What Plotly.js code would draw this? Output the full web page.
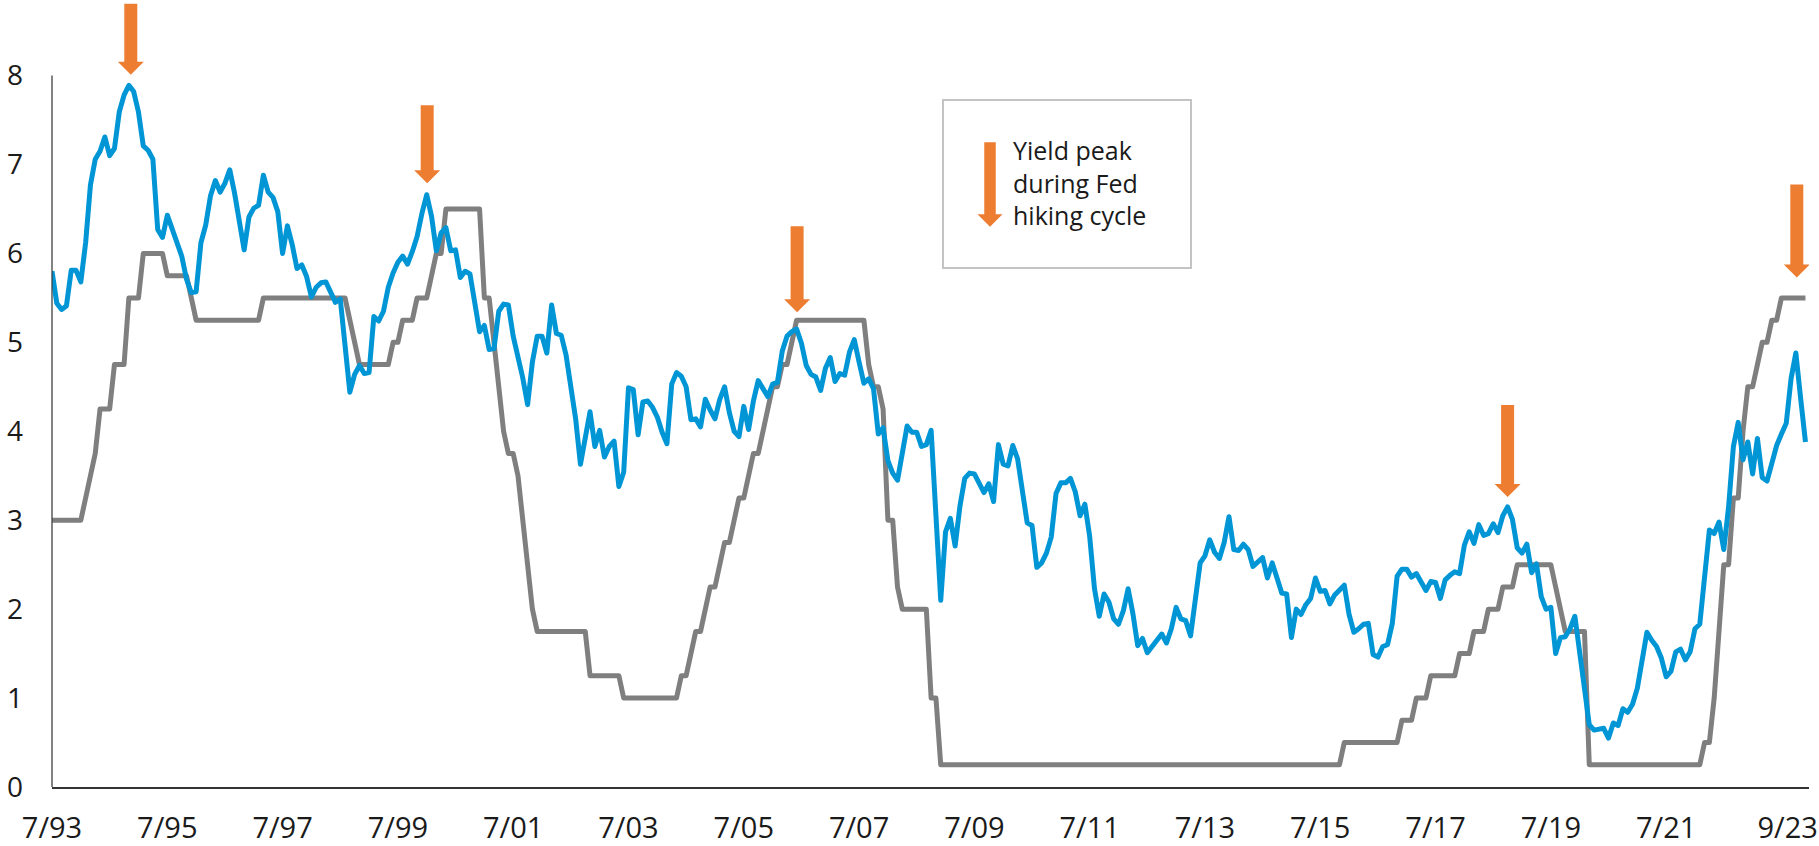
<!DOCTYPE html>
<html>
<head>
<meta charset="utf-8">
<script src="https://cdn.plot.ly/plotly-3.0.1.min.js"></script>
<style>
  html, body { margin: 0; padding: 0; background: #ffffff; }
  #chart { width: 1819px; height: 846px; }
  .js-line { stroke-linejoin: round; }
</style>
</head>
<body>
<div id="chart"></div>
<script>
// ---------- DATA (monthly, 7/1993 .. 12/2023) ----------
const tickLabels = ['7/93','7/95','7/97','7/99','7/01','7/03','7/05','7/07','7/09','7/11','7/13','7/15','7/17','7/19','7/21','9/23'];
// tick positions, in months since 7/1993 (last label sits flush with the right edge)
const tickMonths = [0, 24, 48, 72, 96, 120, 144, 168, 192, 216, 240, 264, 288, 312, 336, 361.3];

// 10-year Treasury yield (%), month-end
const yield10y = [
  5.80, 5.44, 5.37, 5.41, 5.81, 5.81,
  5.68, 6.12, 6.77, 7.06, 7.15, 7.31, 7.10, 7.18, 7.59, 7.78, 7.89, 7.82,
  7.59, 7.21, 7.16, 7.06, 6.27, 6.18, 6.43, 6.27, 6.15, 5.97, 5.71, 5.56,
  5.57, 6.12, 6.32, 6.65, 6.82, 6.69, 6.79, 6.94, 6.68, 6.35, 6.04, 6.41,
  6.51, 6.54, 6.88, 6.69, 6.63, 6.47, 6.00, 6.31, 6.10, 5.83, 5.87, 5.74,
  5.51, 5.62, 5.67, 5.68, 5.55, 5.45, 5.49, 4.98, 4.44, 4.64, 4.74, 4.65,
  4.66, 5.29, 5.24, 5.35, 5.62, 5.78, 5.90, 5.97, 5.88, 6.02, 6.19, 6.45,
  6.66, 6.42, 6.03, 6.23, 6.29, 6.03, 6.04, 5.73, 5.80, 5.77, 5.48, 5.12,
  5.19, 4.92, 4.93, 5.35, 5.43, 5.42, 5.07, 4.85, 4.60, 4.30, 4.78, 5.07,
  5.07, 4.88, 5.42, 5.10, 5.08, 4.86, 4.51, 4.14, 3.63, 3.93, 4.22, 3.83,
  4.01, 3.71, 3.83, 3.89, 3.38, 3.54, 4.49, 4.47, 3.96, 4.33, 4.34, 4.27,
  4.16, 3.99, 3.86, 4.53, 4.66, 4.62, 4.50, 4.13, 4.14, 4.05, 4.36, 4.24,
  4.14, 4.36, 4.50, 4.21, 4.00, 3.94, 4.28, 4.02, 4.34, 4.57, 4.49, 4.39,
  4.53, 4.55, 4.90, 5.07, 5.12, 5.15, 4.99, 4.74, 4.64, 4.61, 4.46, 4.71,
  4.83, 4.56, 4.65, 4.63, 4.89, 5.03, 4.78, 4.54, 4.59, 4.48, 3.97, 4.04,
  3.67, 3.53, 3.45, 3.77, 4.06, 3.99, 3.99, 3.83, 3.85, 4.01, 2.93, 2.10,
  2.87, 3.02, 2.71, 3.16, 3.47, 3.53, 3.52, 3.40, 3.31, 3.41, 3.21, 3.85,
  3.63, 3.61, 3.84, 3.69, 3.31, 2.97, 2.94, 2.47, 2.52, 2.63, 2.81, 3.30,
  3.42, 3.42, 3.47, 3.32, 3.05, 3.18, 2.82, 2.23, 1.92, 2.17, 2.08, 1.89,
  1.83, 1.98, 2.23, 1.95, 1.59, 1.67, 1.51, 1.57, 1.65, 1.72, 1.62, 1.78,
  2.02, 1.89, 1.87, 1.70, 2.16, 2.52, 2.60, 2.78, 2.64, 2.57, 2.75, 3.04,
  2.67, 2.66, 2.73, 2.67, 2.48, 2.53, 2.58, 2.35, 2.52, 2.35, 2.18, 2.17,
  1.68, 2.00, 1.94, 2.05, 2.12, 2.35, 2.20, 2.21, 2.06, 2.16, 2.21, 2.27,
  1.94, 1.74, 1.78, 1.83, 1.84, 1.49, 1.46, 1.58, 1.60, 1.84, 2.37, 2.45,
  2.45, 2.36, 2.40, 2.29, 2.21, 2.31, 2.30, 2.12, 2.33, 2.38, 2.42, 2.40,
  2.72, 2.87, 2.74, 2.95, 2.83, 2.85, 2.96, 2.86, 3.05, 3.15, 3.01, 2.69,
  2.63, 2.73, 2.41, 2.51, 2.14, 2.00, 2.02, 1.50, 1.68, 1.69, 1.78, 1.92,
  1.51, 1.13, 0.70, 0.64, 0.65, 0.66, 0.55, 0.72, 0.69, 0.88, 0.84, 0.93,
  1.11, 1.44, 1.74, 1.65, 1.58, 1.45, 1.24, 1.30, 1.52, 1.55, 1.43, 1.52,
  1.78, 1.83, 2.32, 2.89, 2.85, 2.98, 2.67, 3.15, 3.83, 4.10, 3.68, 3.88,
  3.52, 3.92, 3.48, 3.44, 3.64, 3.84, 3.97, 4.09, 4.59, 4.88, 4.37, 3.88
];

// Fed funds target rate (upper bound, %), month-end
const fedFunds = [
  3.00, 3.00, 3.00, 3.00, 3.00, 3.00,
  3.00, 3.25, 3.50, 3.75, 4.25, 4.25, 4.25, 4.75, 4.75, 4.75, 5.50, 5.50,
  5.50, 6.00, 6.00, 6.00, 6.00, 6.00, 5.75, 5.75, 5.75, 5.75, 5.75, 5.50,
  5.25, 5.25, 5.25, 5.25, 5.25, 5.25, 5.25, 5.25, 5.25, 5.25, 5.25, 5.25,
  5.25, 5.25, 5.50, 5.50, 5.50, 5.50, 5.50, 5.50, 5.50, 5.50, 5.50, 5.50,
  5.50, 5.50, 5.50, 5.50, 5.50, 5.50, 5.50, 5.50, 5.25, 5.00, 4.75, 4.75,
  4.75, 4.75, 4.75, 4.75, 4.75, 5.00, 5.00, 5.25, 5.25, 5.25, 5.50, 5.50,
  5.50, 5.75, 6.00, 6.00, 6.50, 6.50, 6.50, 6.50, 6.50, 6.50, 6.50, 6.50,
  5.50, 5.50, 5.00, 4.50, 4.00, 3.75, 3.75, 3.50, 3.00, 2.50, 2.00, 1.75,
  1.75, 1.75, 1.75, 1.75, 1.75, 1.75, 1.75, 1.75, 1.75, 1.75, 1.25, 1.25,
  1.25, 1.25, 1.25, 1.25, 1.25, 1.00, 1.00, 1.00, 1.00, 1.00, 1.00, 1.00,
  1.00, 1.00, 1.00, 1.00, 1.00, 1.25, 1.25, 1.50, 1.75, 1.75, 2.00, 2.25,
  2.25, 2.50, 2.75, 2.75, 3.00, 3.25, 3.25, 3.50, 3.75, 3.75, 4.00, 4.25,
  4.50, 4.50, 4.75, 4.75, 5.00, 5.25, 5.25, 5.25, 5.25, 5.25, 5.25, 5.25,
  5.25, 5.25, 5.25, 5.25, 5.25, 5.25, 5.25, 5.25, 4.75, 4.50, 4.50, 4.25,
  3.00, 3.00, 2.25, 2.00, 2.00, 2.00, 2.00, 2.00, 2.00, 1.00, 1.00, 0.25,
  0.25, 0.25, 0.25, 0.25, 0.25, 0.25, 0.25, 0.25, 0.25, 0.25, 0.25, 0.25,
  0.25, 0.25, 0.25, 0.25, 0.25, 0.25, 0.25, 0.25, 0.25, 0.25, 0.25, 0.25,
  0.25, 0.25, 0.25, 0.25, 0.25, 0.25, 0.25, 0.25, 0.25, 0.25, 0.25, 0.25,
  0.25, 0.25, 0.25, 0.25, 0.25, 0.25, 0.25, 0.25, 0.25, 0.25, 0.25, 0.25,
  0.25, 0.25, 0.25, 0.25, 0.25, 0.25, 0.25, 0.25, 0.25, 0.25, 0.25, 0.25,
  0.25, 0.25, 0.25, 0.25, 0.25, 0.25, 0.25, 0.25, 0.25, 0.25, 0.25, 0.25,
  0.25, 0.25, 0.25, 0.25, 0.25, 0.25, 0.25, 0.25, 0.25, 0.25, 0.25, 0.50,
  0.50, 0.50, 0.50, 0.50, 0.50, 0.50, 0.50, 0.50, 0.50, 0.50, 0.50, 0.75,
  0.75, 0.75, 1.00, 1.00, 1.00, 1.25, 1.25, 1.25, 1.25, 1.25, 1.25, 1.50,
  1.50, 1.50, 1.75, 1.75, 1.75, 2.00, 2.00, 2.00, 2.25, 2.25, 2.25, 2.50,
  2.50, 2.50, 2.50, 2.50, 2.50, 2.50, 2.50, 2.25, 2.00, 1.75, 1.75, 1.75,
  1.75, 1.75, 0.25, 0.25, 0.25, 0.25, 0.25, 0.25, 0.25, 0.25, 0.25, 0.25,
  0.25, 0.25, 0.25, 0.25, 0.25, 0.25, 0.25, 0.25, 0.25, 0.25, 0.25, 0.25,
  0.25, 0.25, 0.50, 0.50, 1.00, 1.75, 2.50, 2.50, 3.25, 3.25, 4.00, 4.50,
  4.50, 4.75, 5.00, 5.00, 5.25, 5.25, 5.50, 5.50, 5.50, 5.50, 5.50, 5.50
];

// ---------- helpers ----------
const monthIdx = yield10y.map((_, i) => i);

const W = 1819, H = 846, ML = 52, MR = 10, MT = 0, MB = 59;
const PW = W - ML - MR, PH = H - MT - MB;
const paperX = x => (x - ML) / PW;          // page pixel -> paper
const paperY = y => (H - MB - y) / PH;

const ORANGE = '#ED7D31';
function arrowPath(len, shaftW, headW, headL) {
  const s = shaftW / 2, h = headW / 2;
  return 'M' + (-s) + ',' + len + ' L' + (-s) + ',' + headL + ' L' + (-h) + ',' + headL +
         ' L0,0 L' + h + ',' + headL + ' L' + s + ',' + headL + ' L' + s + ',' + len + ' Z';
}

// peak arrows (anchored in data space at arrow tip)
const peakArrows = [
  { month: 16.4,  tip: 8.01, len: 71 },
  { month: 78.1,  tip: 6.79, len: 78 },
  { month: 155.1, tip: 5.34, len: 86 },
  { month: 303.0, tip: 3.26, len: 92 },
  { month: 363.2, tip: 5.73, len: 93 }
];

const shapes = peakArrows.map(a => ({
  type: 'path', xref: 'x', yref: 'y',
  xsizemode: 'pixel', ysizemode: 'pixel',
  xanchor: a.month, yanchor: a.tip,
  path: arrowPath(a.len, 13, 26, 13),
  fillcolor: ORANGE, line: { width: 0 }, layer: 'above'
}));

// y axis line (only up to 8)
shapes.push({
  type: 'line', xref: 'paper', yref: 'y', x0: 0, x1: 0, y0: 0, y1: 8,
  line: { color: '#404040', width: 1.3 }, layer: 'above'
});

// legend box
shapes.push({
  type: 'rect', xref: 'paper', yref: 'paper',
  x0: paperX(943), x1: paperX(1191), y0: paperY(268), y1: paperY(100),
  line: { color: '#c3c3c3', width: 2 }, fillcolor: 'rgba(255,255,255,0)', layer: 'above'
});
// legend arrow
shapes.push({
  type: 'path', xref: 'paper', yref: 'paper',
  xsizemode: 'pixel', ysizemode: 'pixel',
  xanchor: paperX(990), yanchor: paperY(226.7),
  path: arrowPath(84.5, 11.5, 25, 12.5),
  fillcolor: ORANGE, line: { width: 0 }, layer: 'above'
});

const annotations = [{
  text: 'Yield peak<br>during Fed<br>hiking cycle',
  xref: 'paper', yref: 'paper',
  x: paperX(1011), y: paperY(183),
  xanchor: 'left', yanchor: 'middle', align: 'left', showarrow: false,
  font: { family: 'Open Sans, sans-serif', size: 25, color: '#1a1a1a' }
}];

const traces = [
  {
    x: monthIdx, y: fedFunds, type: 'scatter', mode: 'lines',
    name: 'Fed funds rate',
    line: { color: '#7f7f7f', width: 5 },
    hoverinfo: 'skip'
  },
  {
    x: monthIdx, y: yield10y, type: 'scatter', mode: 'lines',
    name: '10-year Treasury yield',
    line: { color: '#0096d6', width: 5 },
    hoverinfo: 'skip'
  }
];

const layout = {
  width: W, height: H,
  margin: { l: ML, r: MR, t: MT, b: MB, pad: 0 },
  paper_bgcolor: '#ffffff', plot_bgcolor: '#ffffff',
  showlegend: false,
  font: { family: 'Open Sans, sans-serif', color: '#1a1a1a' },
  xaxis: {
    range: [0, PW / 4.804],
    tickvals: tickMonths, ticktext: tickLabels,
    ticks: '', showgrid: false, zeroline: false,
    showline: true, linecolor: '#333333', linewidth: 1.5,
    tickfont: { family: 'Open Sans, sans-serif', size: 29, color: '#1a1a1a' },
    ticklabelstandoff: 15,
    fixedrange: true
  },
  yaxis: {
    range: [0, 8.85],
    tickvals: [0, 1, 2, 3, 4, 5, 6, 7, 8],
    ticks: '', showgrid: false, zeroline: false, showline: false,
    tickfont: { family: 'Open Sans, sans-serif', size: 28, color: '#1a1a1a' },
    ticklabelstandoff: 28,
    fixedrange: true
  },
  shapes: shapes,
  annotations: annotations
};

Plotly.newPlot('chart', traces, layout, { staticPlot: true, displayModeBar: false });
</script>
</body>
</html>
